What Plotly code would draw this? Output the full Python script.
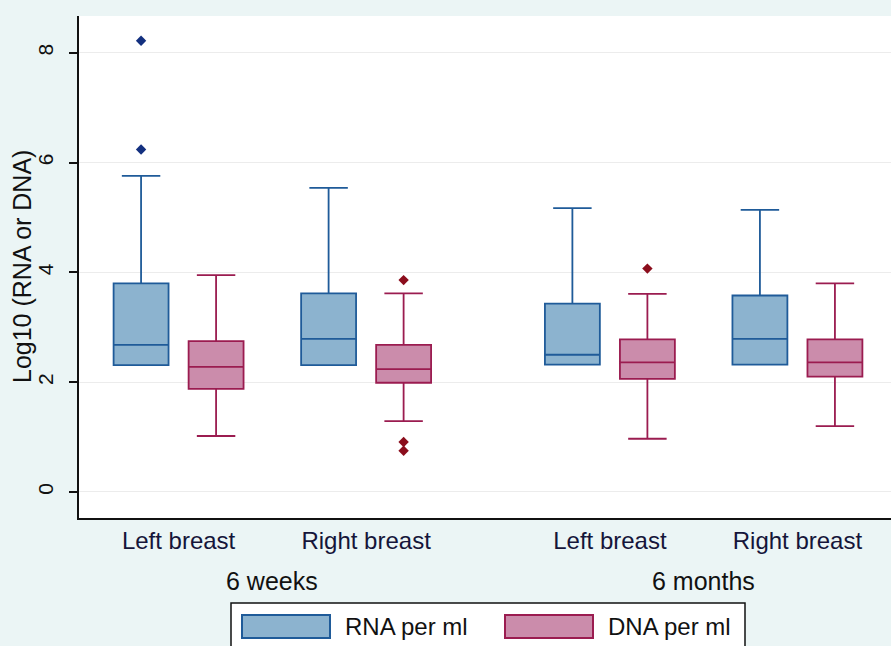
import plotly.graph_objects as go

# categories
times = ["6 weeks", "6 weeks", "6 months", "6 months"]
sides = ["Left breast", "Right breast", "Left breast", "Right breast"]

# RNA per ml (log10) box statistics
rna_q1 = [2.31, 2.31, 2.32, 2.32]
rna_median = [2.68, 2.79, 2.50, 2.79]
rna_q3 = [3.80, 3.62, 3.43, 3.58]
rna_low = [2.31, 2.31, 2.32, 2.32]
rna_high = [5.76, 5.54, 5.17, 5.14]

# DNA per ml (log10) box statistics
dna_q1 = [1.88, 1.99, 2.06, 2.10]
dna_median = [2.28, 2.24, 2.36, 2.36]
dna_q3 = [2.75, 2.68, 2.78, 2.78]
dna_low = [1.02, 1.29, 0.97, 1.20]
dna_high = [3.95, 3.62, 3.61, 3.80]

# outside values: index of category, value
rna_out_cat = [0, 0]
rna_out_val = [8.22, 6.24]
dna_out_cat = [1, 1, 1, 2]
dna_out_val = [3.86, 0.91, 0.75, 4.07]

y_ticks = [0, 2, 4, 6, 8]
y_title = "Log10 (RNA or DNA)"

# layout: slot positions on the x axis (gap between time points)
slot = [1, 2, 3.3, 4.3]
shift = 0.2
box_w = 0.293

W, H = 891, 646
L, R, T, B = 79, 0, 16, 128
FONT = "Liberation Sans, Arial, sans-serif"

RNA_FILL, RNA_LINE, RNA_PT = "#8cb3cf", "#1f5b99", "#13307f"
DNA_FILL, DNA_LINE, DNA_PT = "#cb8cab", "#9b1c50", "#8b0d1c"

rna_x = [s - shift for s in slot]
dna_x = [s + shift for s in slot]

fig = go.Figure()
fig.add_trace(go.Box(
    x=rna_x, q1=rna_q1, median=rna_median, q3=rna_q3,
    lowerfence=rna_low, upperfence=rna_high,
    width=box_w, whiskerwidth=0.7, boxpoints=False,
    fillcolor=RNA_FILL, line=dict(color=RNA_LINE, width=1.8),
    name="RNA per ml", showlegend=False,
))
fig.add_trace(go.Box(
    x=dna_x, q1=dna_q1, median=dna_median, q3=dna_q3,
    lowerfence=dna_low, upperfence=dna_high,
    width=box_w, whiskerwidth=0.7, boxpoints=False,
    fillcolor=DNA_FILL, line=dict(color=DNA_LINE, width=1.8),
    name="DNA per ml", showlegend=False,
))
fig.add_trace(go.Scatter(
    x=[rna_x[i] for i in rna_out_cat], y=rna_out_val, mode="markers",
    marker=dict(symbol="diamond", size=8, color=RNA_PT), showlegend=False,
))
fig.add_trace(go.Scatter(
    x=[dna_x[i] for i in dna_out_cat], y=dna_out_val, mode="markers",
    marker=dict(symbol="diamond", size=8, color=DNA_PT), showlegend=False,
))


def px(x):
    return (x - L) / (W - L - R)


def py(y):
    return (H - B - y) / (H - T - B)


# y title placed by hand, reading bottom to top
annotations = [dict(
    x=px(22), xref="paper", y=0.5, yref="paper", text=y_title,
    textangle=-90, showarrow=False, font=dict(size=25, color="#111111"),
    xanchor="center", yanchor="middle",
)]

# group labels under the category labels
for t in dict.fromkeys(times):
    xs = [slot[i] for i, tt in enumerate(times) if tt == t]
    annotations.append(dict(
        x=sum(xs) / len(xs), xref="x", y=py(581), yref="paper",
        text=t, showarrow=False, font=dict(size=25, color="#111111"),
        xanchor="center", yanchor="middle",
    ))

# hand-drawn legend in the Stata style
shapes = [dict(type="rect", xref="paper", yref="paper",
               x0=px(231), x1=px(745), y0=py(603), y1=py(660),
               fillcolor="white", line=dict(color="#111111", width=1.5), layer="above")]
for x0, fill, col, label in [(242, RNA_FILL, RNA_LINE, "RNA per ml"),
                             (505, DNA_FILL, DNA_LINE, "DNA per ml")]:
    shapes.append(dict(type="rect", xref="paper", yref="paper",
                       x0=px(x0), x1=px(x0 + 88), y0=py(615), y1=py(638),
                       fillcolor=fill, line=dict(color=col, width=2), layer="above"))
    annotations.append(dict(
        x=px(x0 + 101), xref="paper", y=py(626), yref="paper", text=label,
        showarrow=False, font=dict(size=24, color="#111111"),
        xanchor="left", yanchor="middle",
    ))

fig.update_layout(
    width=W, height=H, autosize=False,
    margin=dict(l=L, r=R, t=T, b=B),
    paper_bgcolor="#ebf5f5", plot_bgcolor="white",
    font=dict(family=FONT, color="#111111"),
    boxmode="overlay",
    shapes=shapes, annotations=annotations,
    xaxis=dict(
        range=[0.469, 4.799], tickvals=slot, ticktext=sides,
        showgrid=False, zeroline=False, showline=True,
        linecolor="#111111", linewidth=2, ticks="",
        tickfont=dict(size=24, color="#15153a"),
    ),
    yaxis=dict(
        range=[-0.474, 8.672], tickvals=y_ticks, tickangle=-90,
        showgrid=True, gridcolor="#ececec", gridwidth=1,
        zeroline=False, showline=True, linecolor="#111111", linewidth=2,
        ticks="outside", ticklen=8, tickwidth=1.5, tickcolor="#111111",
        tickfont=dict(size=21, color="#111111"), ticklabelstandoff=8,
    ),
)

# drop the page's default body margin so the figure sits at the top-left corner
fig.write_html("out.html", config={"displayModeBar": False},
               post_script="document.body.style.margin='0';")
